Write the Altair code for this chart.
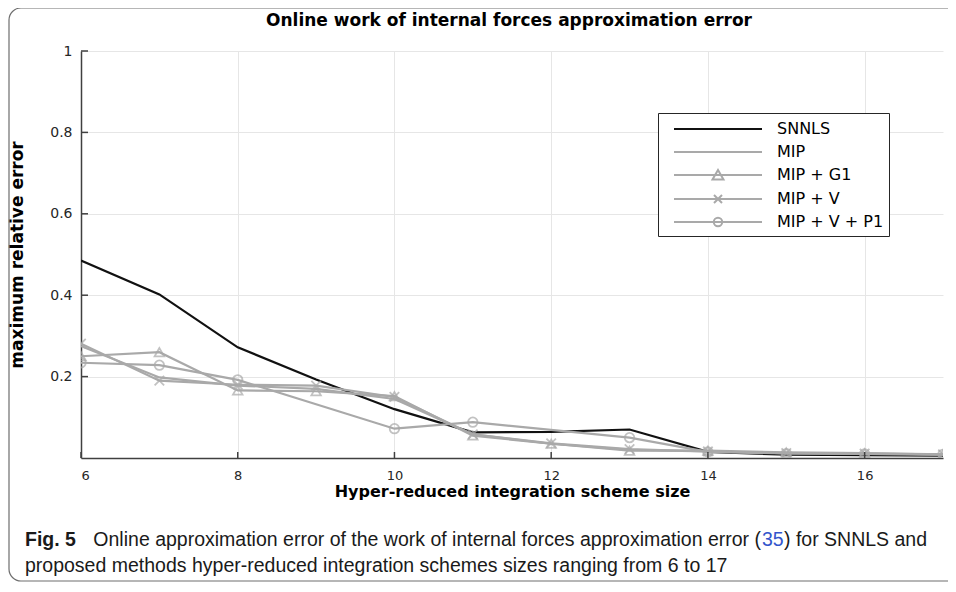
import altair as alt
import pandas as pd

# ---------------- data ----------------
x_vals = [6, 7, 8, 9, 10, 11, 12, 13, 14, 15, 16, 17]
snnls = [0.485, 0.402, 0.272, 0.193, 0.120, 0.063, 0.064, 0.070, 0.015, 0.008, 0.007, 0.006]
mip = [0.275, 0.198, 0.178, 0.170, 0.145, 0.058, 0.035, 0.020, 0.016, 0.012, 0.010, 0.008]
mip_g1 = [0.250, 0.260, 0.166, 0.164, 0.152, 0.055, 0.035, 0.018, 0.018, 0.014, 0.012, 0.009]
mip_v = [0.281, 0.190, 0.180, 0.178, 0.150, 0.058, 0.036, 0.022, 0.016, 0.012, 0.011, 0.009]
mip_v_p1 = [0.234, 0.228, 0.192, None, 0.072, 0.088, None, 0.050, 0.015, 0.011, 0.010, 0.009]

series_names = ["SNNLS", "MIP", "MIP + G1", "MIP + V", "MIP + V + P1"]
series_values = [snnls, mip, mip_g1, mip_v, mip_v_p1]
series_colors = ["#111111", "#a9a9a9", "#a9a9a9", "#a9a9a9", "#a9a9a9"]
marker_series = ["MIP + G1", "MIP + V", "MIP + V + P1"]

x_ticks = [6, 8, 10, 12, 14, 16]
y_ticks = [0, 0.2, 0.4, 0.6, 0.8, 1]

title_text = "Online work of internal forces approximation error"
x_title = "Hyper-reduced integration scheme size"
y_title = "maximum relative error"
caption_fig = "Fig. 5"
caption_a = "Online approximation error of the work of internal forces approximation error ("
caption_ref = "35"
caption_b = ") for SNNLS and"
caption_line2 = "proposed methods hyper-reduced integration schemes sizes ranging from 6 to 17"

rows = []
for name, vals in zip(series_names, series_values):
    for xv, yv in zip(x_vals, vals):
        if yv is not None:
            rows.append({"size": xv, "error": yv, "series": name, "order": series_names.index(name)})
df = pd.DataFrame(rows)
df_markers = df[df["series"].isin(marker_series)]

W, H = 862, 407
FONT = "DejaVu Sans"
AXIS_COLOR = "#404040"
GRID_COLOR = "#e6e6e6"
GRAY = "#a9a9a9"

x_scale = alt.Scale(domain=[6, 17], nice=False, zero=False)
y_scale = alt.Scale(domain=[0, 1], nice=False, zero=False)

# legend symbols: line + marker in one path (unit = 10 px with symbolSize 400)
line_part = "M0,0H8.8"
tri = "M4.4,-0.5L4.95,0.45L3.85,0.45Z"
xmark = "M4.0,-0.4L4.8,0.4M4.0,0.4L4.8,-0.4"
circ = "M4.82,0A0.42,0.42 0 1,1 3.98,0A0.42,0.42 0 1,1 4.82,0"
shape_expr = (
    "datum.value == 'MIP + G1' ? '" + line_part + tri + "' : "
    "datum.value == 'MIP + V' ? '" + line_part + xmark + "' : "
    "datum.value == 'MIP + V + P1' ? '" + line_part + circ + "' : '" + line_part + "'"
)

color_scale = alt.Scale(domain=series_names, range=series_colors)

base = alt.Chart(df)
one = pd.DataFrame({"k": [0]})

frame = alt.Chart(one).mark_rect(
    fill="transparent", stroke="#6e6e6e", strokeWidth=1.2, cornerRadius=12, clip=False
).encode(
    x=alt.value(-72), x2=alt.value(920), y=alt.value(-43), y2=alt.value(530)
)

title = alt.Chart(one).mark_text(
    text=title_text, font=FONT, fontSize=17, fontWeight="bold", color="#000000",
    align="center", baseline="middle", clip=False
).encode(x=alt.value(W / 2 - 3), y=alt.value(-30))

lines = base.mark_line(strokeWidth=2.2, clip=True).encode(
    x=alt.X("size:Q", scale=x_scale,
            axis=alt.Axis(values=x_ticks, title=x_title, grid=True, ticks=False, format="d",
                          labelPadding=11, titlePadding=1, labelFontSize=13, titleFontSize=16)),
    y=alt.Y("error:Q", scale=y_scale,
            axis=alt.Axis(values=y_ticks, title=y_title, grid=True, ticks=False, format="~g",
                          labelPadding=9, titlePadding=23,
                          labelExpr="datum.value == 0 ? '' : datum.label")),
    color=alt.Color("series:N", scale=color_scale, sort=series_names,
                    legend=alt.Legend(
                        title=None, orient="none", legendX=577, legendY=62,
                        padding=5, rowPadding=4, symbolSize=400, symbolStrokeWidth=2,
                        symbolFillColor="transparent", labelOffset=92,
                        symbolType=alt.ExprRef(expr=shape_expr),
                        labelFont=FONT, labelFontSize=16, labelColor="#000000",
                        strokeColor="#262626", fillColor="white",
                    )),
    order=alt.Order("order:Q"),
    detail="series:N",
)

points = alt.Chart(df_markers).mark_point(filled=False, strokeWidth=1.8, size=90, clip=True).encode(
    x=alt.X("size:Q", scale=x_scale),
    y=alt.Y("error:Q", scale=y_scale),
    shape=alt.Shape("series:N",
                    scale=alt.Scale(domain=marker_series,
                                    range=["triangle-up", "M-1,-1L1,1M-1,1L1,-1", "circle"]),
                    legend=None),
    color=alt.value(GRAY),
)

xt = alt.Chart(pd.DataFrame({"t": x_ticks})).mark_rule(color=AXIS_COLOR, strokeWidth=1.5).encode(
    x=alt.X("t:Q", scale=x_scale), y=alt.value(H), y2=alt.value(H - 6)
)
yt = alt.Chart(pd.DataFrame({"t": y_ticks[1:]})).mark_rule(color=AXIS_COLOR, strokeWidth=1.5).encode(
    y=alt.Y("t:Q", scale=y_scale), x=alt.value(0), x2=alt.value(7)
)

cap_style = dict(font="Liberation Sans", fontSize=19.5, baseline="middle", clip=False)
cap1 = alt.Chart(one).mark_text(text=caption_fig, fontWeight="bold", color="#1a1a1a", align="left",
                                **cap_style).encode(x=alt.value(-56), y=alt.value(489))
cap2 = alt.Chart(one).mark_text(text=caption_a, color="#1a1a1a", align="right",
                                **cap_style).encode(x=alt.value(680), y=alt.value(489))
cap3 = alt.Chart(one).mark_text(text=caption_ref, color="#3355cc", align="left",
                                **cap_style).encode(x=alt.value(681), y=alt.value(489))
cap4 = alt.Chart(one).mark_text(text=caption_b, color="#1a1a1a", align="left",
                                **cap_style).encode(x=alt.value(703), y=alt.value(489))
cap5 = alt.Chart(one).mark_text(text=caption_line2, color="#1a1a1a", align="left",
                                **cap_style).encode(x=alt.value(-56), y=alt.value(515))

chart = alt.layer(frame, title, lines, points, xt, yt, cap1, cap2, cap3, cap4, cap5).properties(
    width=W, height=H,
    autosize="none",
    padding={"left": 73, "top": 43, "right": 5, "bottom": 124},
).configure_view(stroke=None).configure_axis(
    labelFont=FONT, labelFontSize=14, labelColor="#262626",
    titleFont=FONT, titleFontSize=17, titleFontWeight="bold", titleColor="#000000",
    domainColor=AXIS_COLOR, domainWidth=1.5,
    gridColor=GRID_COLOR, gridWidth=1,
)

chart.save("out.html", embed_options={"renderer": "svg", "actions": False})
